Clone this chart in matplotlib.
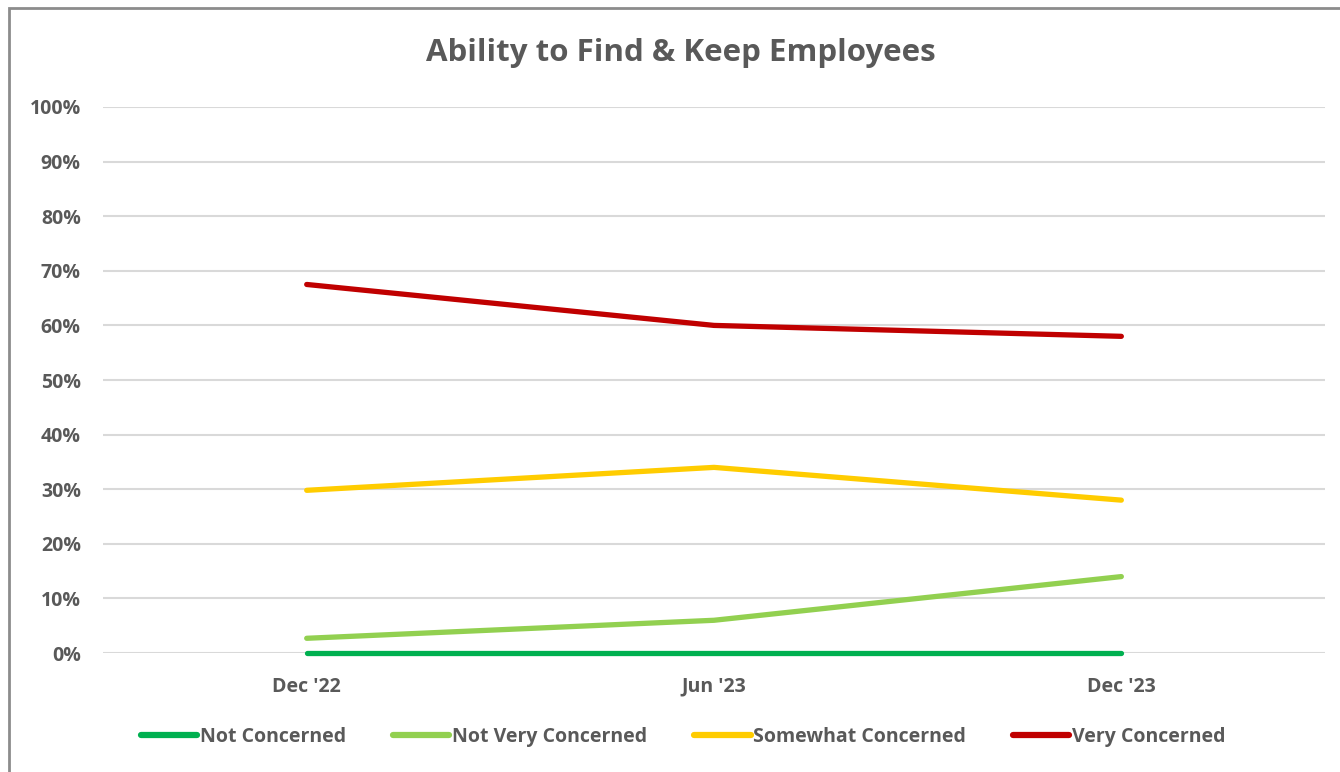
import matplotlib.pyplot as plt
from matplotlib.patches import Rectangle
from matplotlib.ticker import PercentFormatter
import numpy as np

plt.rcParams['font.family'] = ['Open Sans', 'DejaVu Sans']

periods = ["Dec '22", "Jun '23", "Dec '23"]
not_concerned = [0.0, 0.0, 0.0]
not_very_concerned = [2.7, 6.0, 14.0]
somewhat_concerned = [29.8, 34.0, 28.0]
very_concerned = [67.5, 60.0, 58.0]

series = [
    ('Not Concerned', not_concerned, '#00B050'),
    ('Not Very Concerned', not_very_concerned, '#92D050'),
    ('Somewhat Concerned', somewhat_concerned, '#FFCC00'),
    ('Very Concerned', very_concerned, '#C00000'),
]

txt = '#595959'
fig = plt.figure(figsize=(13.4, 7.72), dpi=100)
ax = fig.add_axes([0.0769, 0.1541, 0.9119, 0.7073])

x = np.arange(len(periods)) + 0.5
for name, vals, col in series:
    ax.plot(x, vals, color=col, lw=3.8, solid_capstyle='round', label=name,
            zorder=3, clip_on=False)

ax.set_xlim(0, 3)
ax.set_ylim(0, 100)
ax.set_yticks(np.arange(0, 101, 10))
ax.yaxis.set_major_formatter(PercentFormatter(decimals=0))
ax.set_xticks(x)
ax.set_xticklabels(periods)
ax.grid(axis='y', color='#d9d9d9', lw=1.5)
ax.set_axisbelow(True)
for s in ax.spines.values():
    s.set_visible(False)
ax.tick_params(length=0, labelsize=14, labelcolor=txt)
ax.tick_params(axis='y', pad=16)
ax.tick_params(axis='x', pad=17)
for lab in ax.get_xticklabels() + ax.get_yticklabels():
    lab.set_fontweight('bold')

fig.text(0.508, 0.931, 'Ability to Find & Keep Employees', ha='center', va='center',
         fontsize=22.5, fontweight='bold', color=txt)

leg = fig.legend(loc='center', bbox_to_anchor=(0.51, 0.045), ncol=4, frameon=False,
                 fontsize=14, handlelength=2.9, handletextpad=0.15, columnspacing=2.4)
for t in leg.get_texts():
    t.set_color(txt)
    t.set_fontweight('bold')
for h in leg.get_lines():
    h.set_linewidth(4.5)
    h.set_solid_capstyle('round')

# chart frame border
fig.patches.append(Rectangle((0.0067, -0.1), 1.2, 1.0896, transform=fig.transFigure,
                             fill=False, ec='#8c8c8c', lw=2))

fig.savefig('out.png', dpi=100)
